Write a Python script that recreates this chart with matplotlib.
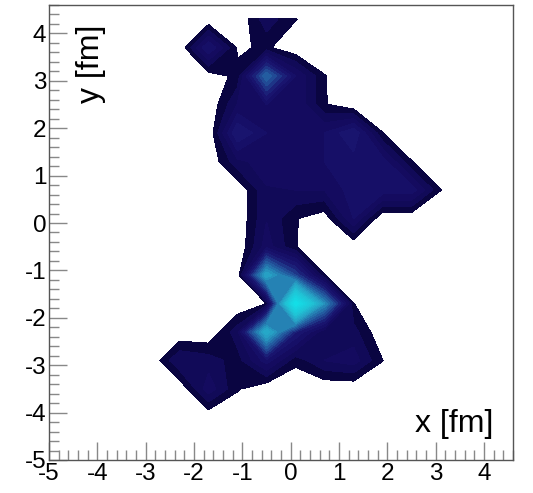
import numpy as np
import matplotlib
matplotlib.use("Agg")
import matplotlib.pyplot as plt
from matplotlib.colors import LinearSegmentedColormap, Normalize
from matplotlib.ticker import MultipleLocator, AutoMinorLocator

plt.rcParams['font.family'] = ['Liberation Sans', 'DejaVu Sans']
plt.rcParams['axes.unicode_minus'] = False

# bin centres of the 2D histogram (0.6 fm bins from -5 to 4.6)
x_centres = [-4.7, -4.1, -3.5, -2.9, -2.3, -1.7, -1.1, -0.5, 0.1, 0.7, 1.3, 1.9, 2.5, 3.1, 3.7, 4.3]
y_centres = [-4.7, -4.1, -3.5, -2.9, -2.3, -1.7, -1.1, -0.5, 0.1, 0.7, 1.3, 1.9, 2.5, 3.1, 3.7, 4.3]

# bin contents, written from the top row (y = 4.3) down to the bottom row (y = -4.7)
rows_top_down = [
    [0, 0, 0, 0, 0,   0,   0,   2.6,  1.05, 0,    0,    0,    0,    0,    0, 0],
    [0, 0, 0, 0, 0,   5.0, 0.8, 1.2,  0,    0,    0,    0,    0,    0,    0, 0],
    [0, 0, 0, 0, 0,   0.3, 1.3, 10.,  4.0,  1.05, 0,    0,    0,    0,    0, 0],
    [0, 0, 0, 0, 0,   0,   3.0, 4.0,  4.0,  1.1,  0,    0,    0,    0,    0, 0],
    [0, 0, 0, 0, 0,   0,   6.0, 4.0,  4.0,  4.0,  5.9,  1.02, 0,    0,    0, 0],
    [0, 0, 0, 0, 0,   0,   2.7, 3.5,  3.5,  4.0,  4.5,  4.5,  1.02, 0,    0, 0],
    [0, 0, 0, 0, 0,   0,   0,   2.9,  3.0,  3.0,  4.5,  4.6,  4.6,  1.02, 0, 0],
    [0, 0, 0, 0, 0,   0,   0,   2.9,  1.07, 0.3,  4.0,  0,    0,    0,    0, 0],
    [0, 0, 0, 0, 0,   0,   0,   3.5,  1.05, 0,    0,    0,    0,    0,    0, 0],
    [0, 0, 0, 0, 0,   0,   0,   14.,  8.0,  1.02, 0,    0,    0,    0,    0, 0],
    [0, 0, 0, 0, 0,   0,   0,   0.95, 25.,  12.,  1.02, 0,    0,    0,    0, 0],
    [0, 0, 0, 0, 0,   0,   2.6, 15.,  6.0,  2.0,  2.4,  0,    0,    0,    0, 0],
    [0, 0, 0, 0, 3.0, 2.5, 1.5, 4.5,  1.3,  3.0,  3.5,  1.02, 0,    0,    0, 0],
    [0, 0, 0, 0, 0,   3.6, 1.1, 0,    0,    0,    0,    0,    0,    0,    0, 0],
    [0, 0, 0, 0, 0,   0,   0,   0,    0,    0,    0,    0,    0,    0,    0, 0],
    [0, 0, 0, 0, 0,   0,   0,   0,    0,    0,    0,    0,    0,    0,    0, 0],
]
z = np.array(rows_top_down[::-1])

# palette: dark navy -> blue -> cyan
anchor_vals = [1.0, 2.5, 4.0, 6.0, 9.0, 13.0, 18.0, 25.0]
anchor_cols = ['#070336', '#110a58', '#150c63', '#1a1772', '#22549c', '#279cc2', '#1fc4d6', '#12e0e8']
zmin, zmax = 1.0, 25.0
cmap = LinearSegmentedColormap.from_list(
    'sea', [((v - zmin) / (zmax - zmin), c) for v, c in zip(anchor_vals, anchor_cols)])

fig = plt.figure(figsize=(5.33, 4.93), dpi=100)
ax = fig.add_axes([49 / 533, 33 / 493, 464 / 533, 455 / 493])

levels = np.linspace(zmin, zmax, 25)
cs = ax.contourf(x_centres, y_centres, z, levels=levels, cmap=cmap,
                 norm=Normalize(zmin, zmax))
cs.set_edgecolor('face')
cs.set_linewidth(0.4)

ax.set_xlim(-5, 4.6)
ax.set_ylim(-5, 4.6)

ax.xaxis.set_major_locator(MultipleLocator(1))
ax.yaxis.set_major_locator(MultipleLocator(1))
ax.xaxis.set_minor_locator(AutoMinorLocator(5))
ax.yaxis.set_minor_locator(AutoMinorLocator(5))
ax.tick_params(which='both', direction='in', top=False, right=False,
               color='#888888', width=1.0, labelsize=17.5)
ax.tick_params(which='major', length=13, pad=2)
ax.tick_params(which='minor', length=7)
for sp in ax.spines.values():
    sp.set_color('#555555')
    sp.set_linewidth(1.0)

ax.text(0.957, 0.0615, 'x [fm]', transform=ax.transAxes, ha='right',
        va='baseline', fontsize=23)
ax.text(0.0905, 0.956, 'y [fm]', transform=ax.transAxes, ha='center',
        va='top', rotation=90, fontsize=23)

fig.savefig('out.png', dpi=100)
